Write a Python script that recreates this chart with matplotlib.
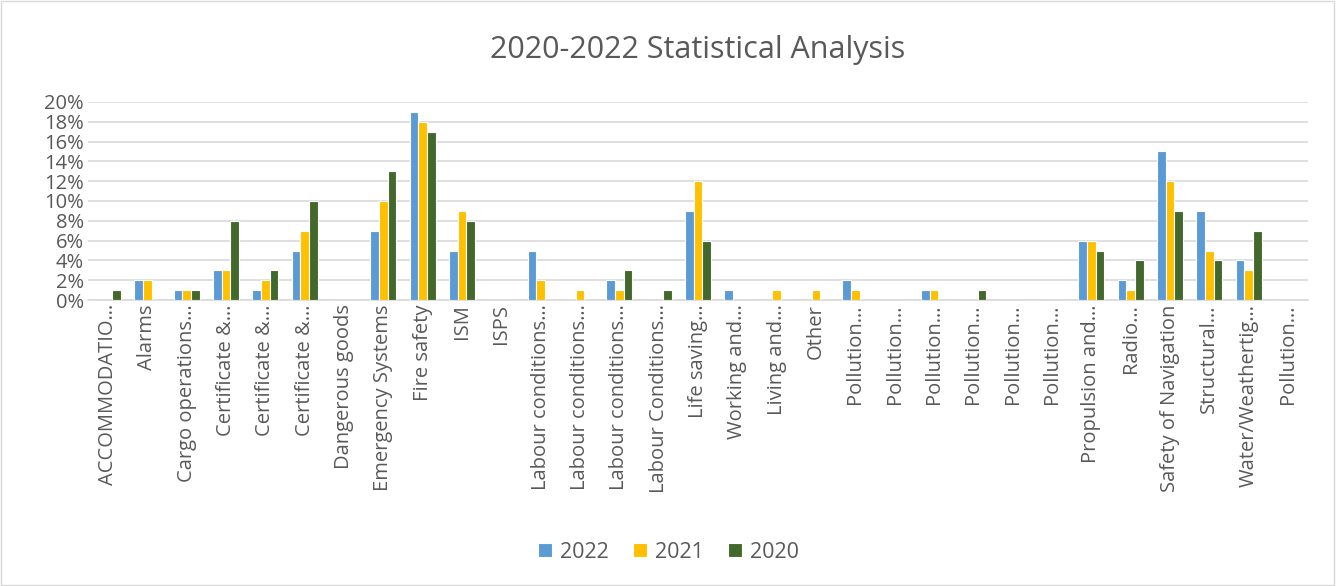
import numpy as np
import matplotlib
matplotlib.use('Agg')
import matplotlib.pyplot as plt
from matplotlib.ticker import PercentFormatter

plt.rcParams['font.family'] = ['Open Sans', 'DejaVu Sans']

# Categories (truncated as in the reference)
categories = ["ACCOMMODATIO…", "Alarms", "Cargo operations…", "Certificate &…", "Certificate &…",
              "Certificate &…", "Dangerous goods", "Emergency Systems", "Fire safety", "ISM", "ISPS",
              "Labour conditions…", "Labour conditions…", "Labour conditions…", "Labour Conditions…",
              "Life saving…", "Working and…", "Living and…", "Other", "Pollution…", "Pollution…",
              "Pollution…", "Pollution…", "Pollution…", "Pollution…", "Propulsion and…", "Radio…",
              "Safety of Navigation", "Structural…", "Water/Weathertig…", "Pollution…"]

# Percent values per year
v2022 = [0, 2, 1, 3, 1, 5, 0, 7, 19, 5, 0, 5, 0, 2, 0, 9, 1, 0, 0, 2, 0, 1, 0, 0, 0, 6, 2, 15, 9, 4, 0]
v2021 = [0, 2, 1, 3, 2, 7, 0, 10, 18, 9, 0, 2, 1, 1, 0, 12, 0, 1, 1, 1, 0, 1, 0, 0, 0, 6, 1, 12, 5, 3, 0]
v2020 = [1, 0, 1, 8, 3, 10, 0, 13, 17, 8, 0, 0, 0, 3, 1, 6, 0, 0, 0, 0, 0, 0, 1, 0, 0, 5, 4, 9, 4, 7, 0]

series = [("2022", v2022, "#5B9BD5"), ("2021", v2021, "#FFC000"), ("2020", v2020, "#43682B")]

fig = plt.figure(figsize=(13.37, 5.86), dpi=100)
ax = fig.add_axes([0.066, 0.488, 0.912, 0.338])

x = np.arange(len(categories))
w = 0.22
for i, (name, vals, col) in enumerate(series):
    ax.bar(x + (i - 1) * w, vals, width=w, color=col, edgecolor='white', linewidth=0.8, label=name, zorder=3)

ax.set_xlim(-0.5, len(categories) - 0.5)
ax.set_ylim(0, 20)
ax.set_yticks(np.arange(0, 21, 2))
ax.yaxis.set_major_formatter(PercentFormatter(decimals=0))
ax.grid(axis='y', color='#D9D9D9', linewidth=1.2, zorder=0)
for s in ['top', 'right', 'left']:
    ax.spines[s].set_visible(False)
ax.spines['bottom'].set_color('#D9D9D9')
ax.spines['bottom'].set_linewidth(1.2)
ax.tick_params(axis='both', length=0, colors='#595959', labelsize=14.5)
ax.tick_params(axis='y', pad=3)
ax.tick_params(axis='x', pad=3)
ax.set_xticks(x)
ax.set_xticklabels(categories, rotation=90, va='top', ha='center')

ax.set_title("2020-2022 Statistical Analysis", fontsize=22, color='#595959', pad=32)

leg = fig.legend(loc='center', bbox_to_anchor=(0.5, 0.058), ncol=3, frameon=False,
                 fontsize=15.5, handlelength=0.65, handleheight=0.65, columnspacing=1.1, handletextpad=0.4)
for t in leg.get_texts():
    t.set_color('#595959')

fig.patches.append(plt.Rectangle((0.001, 0.002), 0.997, 0.996, transform=fig.transFigure,
                                 fill=False, edgecolor='#D9D9D9', linewidth=1))

fig.savefig("out.png", dpi=100)
